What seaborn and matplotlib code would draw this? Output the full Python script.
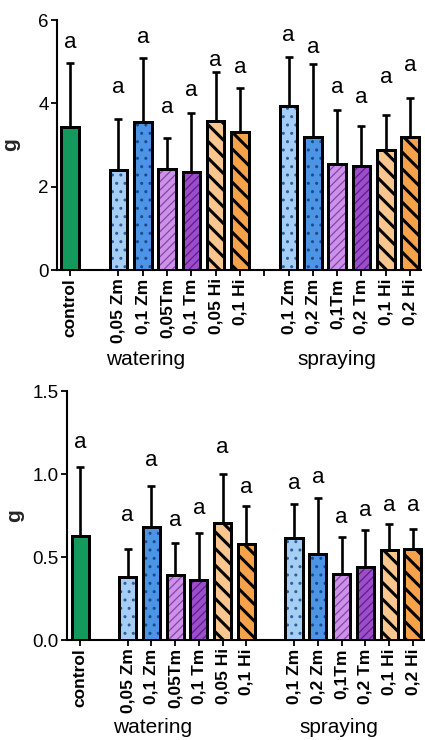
import numpy as np
import pandas as pd
import matplotlib
matplotlib.use("Agg")
import matplotlib.pyplot as plt
import matplotlib.transforms as mtransforms
from matplotlib.patches import Rectangle
import seaborn as sns

# ---------------- data ----------------
control_labels = ["control"]
watering_labels = ["0,05 Zm", "0,1 Zm", "0,05Tm", "0,1 Tm", "0,05 Hi", "0,1 Hi"]
spraying_labels = ["0,1 Zm", "0,2 Zm", "0,1Tm", "0,2 Tm", "0,1 Hi", "0,2 Hi"]
kinds_group = ["Zm_lo", "Zm_hi", "Tm_lo", "Tm_hi", "Hi_lo", "Hi_hi"]
group_names = ["watering", "spraying"]

top_mean = [3.43, 2.40, 3.56, 2.42, 2.35, 3.58, 3.32, 3.94, 3.20, 2.54, 2.50, 2.88, 3.20]
top_sd = [1.54, 1.22, 1.53, 0.76, 1.43, 1.18, 1.04, 1.18, 1.75, 1.29, 0.95, 0.85, 0.92]
top_letter_y = [5.45, 4.39, 5.59, 3.89, 4.32, 5.02, 4.85, 5.62, 5.35, 4.39, 4.15, 4.63, 4.92]

bottom_mean = [0.627, 0.38, 0.68, 0.39, 0.36, 0.705, 0.58, 0.615, 0.52, 0.40, 0.44, 0.545, 0.55]
bottom_sd = [0.413, 0.17, 0.25, 0.195, 0.285, 0.295, 0.23, 0.205, 0.335, 0.22, 0.22, 0.155, 0.12]
bottom_letter_y = [1.19, 0.75, 1.08, 0.72, 0.79, 1.16, 0.92, 0.94, 0.98, 0.74, 0.78, 0.81, 0.81]

letters = ["a"] * 13

# ---------------- style ----------------
fill_colors = {
    "control": "#14995c",
    "Zm_lo": "#a6cdf4",
    "Zm_hi": "#4b94e6",
    "Tm_lo": "#cb92e6",
    "Tm_hi": "#9c4dcb",
    "Hi_lo": "#f8c68e",
    "Hi_hi": "#f5a24b",
}
hatch_style = {
    "control": (None, None, 0),
    "Zm_lo": ("..", "#2f5f9a", 1.0),
    "Zm_hi": ("..", "#1f4a88", 1.0),
    "Tm_lo": ("////", "#8a3fb5", 0.9),
    "Tm_hi": ("////", "#5e1f85", 0.9),
    "Hi_lo": ("\\\\", "black", 2.2),
    "Hi_hi": ("\\\\", "black", 2.2),
}

sns.set_style("ticks")
plt.rcParams["font.family"] = ["Liberation Sans", "DejaVu Sans"]
plt.rcParams["hatch.linewidth"] = 1.3

labels_all = control_labels + watering_labels + spraying_labels
kinds_all = ["control"] + kinds_group + kinds_group
positions = [0] + [2 + i for i in range(len(watering_labels))] + \
            [3 + len(watering_labels) + i for i in range(len(spraying_labels))]
gap_pos = 2 + len(watering_labels)

fig = plt.figure(figsize=(4.25, 7.4), dpi=100)
ax_top = fig.add_axes([57 / 425, 0.6351, 364 / 425, 0.3378])
ax_bot = fig.add_axes([67 / 425, 0.1351, 357 / 425, 0.3365])

EDGE = 2.1


def draw_panel(ax, means, sds, letter_y, ylim, yticks, yfmt, xlim, gap_tick,
               ylabel_x, group_x, group_y):
    df = pd.DataFrame({"pos": positions, "mean": means, "kind": kinds_all,
                       "key": [f"{k}{i}" for i, k in enumerate(kinds_all)]})
    pal = {f"{k}{i}": fill_colors[k] for i, k in enumerate(kinds_all)}
    sns.barplot(data=df, x="pos", y="mean", hue="key", palette=pal,
                native_scale=True, dodge=False, width=0.72, errorbar=None,
                edgecolor="black", linewidth=EDGE, legend=False, ax=ax,
                saturation=1, zorder=3)
    # hatches and outlines
    for p in list(ax.patches):
        cx = p.get_x() + p.get_width() / 2
        idx = int(np.argmin([abs(cx - q) for q in positions]))
        kind = kinds_all[idx]
        h, hc, hlw = hatch_style[kind]
        if h:
            with plt.rc_context({"hatch.linewidth": hlw}):
                r = Rectangle((p.get_x(), p.get_y()), p.get_width(), p.get_height(),
                              facecolor="none", edgecolor=hc, hatch=h,
                              linewidth=0, zorder=3.1)
            if hasattr(r, "set_hatch_linewidth"):
                r.set_hatch_linewidth(hlw)
            ax.add_patch(r)
        o = Rectangle((p.get_x(), p.get_y()), p.get_width(), p.get_height(),
                      facecolor="none", edgecolor="black", linewidth=EDGE,
                      zorder=3.2)
        ax.add_patch(o)
    ax.errorbar(positions, means, yerr=[np.zeros(len(means)), sds], fmt="none",
                ecolor="black", elinewidth=1.9, capsize=3.2, capthick=1.9,
                zorder=2)
    for x, y, t in zip(positions, letter_y, letters):
        ax.text(x, y, t, ha="center", va="center", fontsize=16, color="black")

    ax.set_ylim(*ylim)
    ax.set_xlim(*xlim)
    ax.set_yticks(yticks)
    ax.set_yticklabels([yfmt.format(v) for v in yticks], fontsize=13.5)
    ticks = list(positions)
    labs = list(labels_all)
    if gap_tick:
        ticks.append(gap_pos)
        labs.append("")
    ax.set_xticks(ticks)
    ax.set_xticklabels(labs, rotation=90, fontweight="bold", fontsize=12.5,
                       va="top", ha="center")
    ax.set_xlabel("")
    ax.set_ylabel("g", fontweight="bold", fontsize=15, rotation=90)
    ax.yaxis.set_label_coords(ylabel_x, 0.5)
    sns.despine(ax=ax)
    for s in ["left", "bottom"]:
        ax.spines[s].set_linewidth(1.5)
        ax.spines[s].set_color("black")
    ax.tick_params(axis="both", width=1.3, length=4, color="black",
                   labelcolor="black", pad=2)
    trans = mtransforms.blended_transform_factory(ax.transData, fig.transFigure)
    for gx, name in zip(group_x, group_names):
        ax.text(gx, group_y, name, transform=trans, ha="center", va="baseline",
                fontsize=15, color="black")


draw_panel(ax_top, top_mean, top_sd, top_letter_y, (0, 6), [0, 2, 4, 6], "{:.0f}",
           (-0.53, 14.45), True, -0.10, [3.1, 11.0], 0.507)
draw_panel(ax_bot, bottom_mean, bottom_sd, bottom_letter_y, (0, 1.5),
           [0.0, 0.5, 1.0, 1.5], "{:.1f}", (-0.55, 14.47), False, -0.12,
           [3.06, 10.9], 0.010)

fig.savefig("out.png", dpi=100)
